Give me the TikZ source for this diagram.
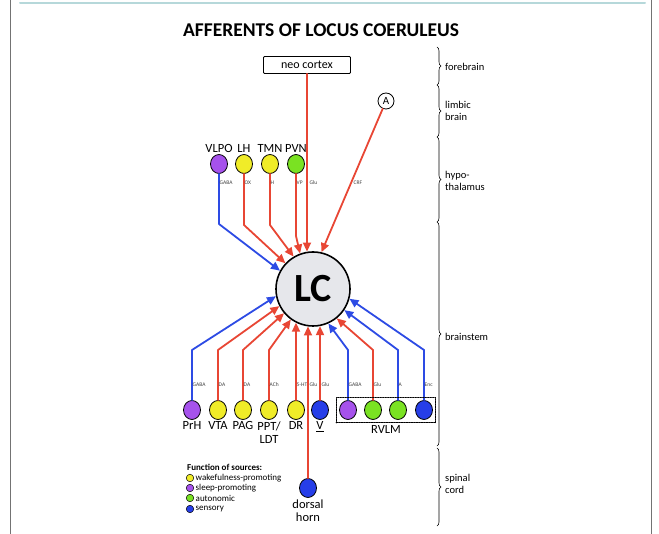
\documentclass[tikz,border=0pt]{standalone}
\usepackage{fontspec}
\setmainfont{Carlito}
\usetikzlibrary{arrows.meta,shapes.geometric,decorations.pathreplacing,fit}

\definecolor{afred}{RGB}{232,70,52}
\definecolor{afblue}{RGB}{45,75,228}
\definecolor{wake}{RGB}{240,236,40}
\definecolor{sleep}{RGB}{166,82,236}
\definecolor{auto}{RGB}{122,226,34}
\definecolor{sens}{RGB}{38,62,232}
\definecolor{lcfill}{RGB}{230,231,235}
\definecolor{rule}{RGB}{182,216,218}

\tikzset{
  src/.style={ellipse,draw,line width=0.8pt,minimum width=17pt,minimum height=19pt,inner sep=0pt},
  conn/.style={line width=1.8pt,line join=round,-{Triangle[length=9pt,width=8pt]}},
  tx/.style={font=\fontsize{5.5}{6.5}\selectfont,text=black!75,anchor=west,inner sep=0.5pt},
  lab/.style={font=\fontsize{12.5}{13}\selectfont,align=center,inner sep=1.5pt},
  side/.style={font=\fontsize{10.5}{11.5}\selectfont,align=left,anchor=west,inner sep=0pt},
  brc/.style={decorate,decoration={brace,amplitude=4pt},line width=0.6pt},
  legdot/.style={circle,draw,line width=0.5pt,minimum size=7.5pt,inner sep=0pt},
  legtxt/.style={font=\fontsize{9}{10}\selectfont,anchor=west,inner sep=1.5pt}
}

\begin{document}
\begin{tikzpicture}[x=1pt,y=-1pt,line cap=round]
\useasboundingbox (0,0) rectangle (659,534);
% frame
\draw[black!55,line width=0.8pt] (10,0) -- (10,534);
\draw[black!55,line width=0.8pt] (651,0) -- (651,534);
\draw[rule,line width=2pt] (20,3) -- (645,3);

\node[font=\fontsize{19.5}{20}\selectfont\bfseries] (title) at (321,30) {AFFERENTS OF LOCUS COERULEUS};

% locus coeruleus
\node[circle,draw,line width=1.6pt,fill=lcfill,minimum size=74pt,inner sep=0pt,
  font=\fontsize{40}{40}\selectfont\bfseries] (lc) at (313,289) {LC};

% forebrain and limbic input
\node[draw,line width=0.8pt,rounded corners=1pt,minimum width=87pt,minimum height=17pt,
  inner sep=1pt,font=\fontsize{12}{13}\selectfont] (neo) at (307,65) {neo cortex};
\draw[conn,afred] (neo.south) -- (neo.south |- lc.98);
\node[tx] (neoglu) at (309,183) {Glu};
\node[circle,draw,line width=0.8pt,minimum size=16pt,inner sep=0pt,
  font=\fontsize{11}{12}\selectfont] (a) at (386,101) {A};
\draw[conn,afred] (a) -- (lc.77);
\node[tx] (crf) at (353,183) {CRF};

% hypothalamus
\foreach \nm/\x/\col/\lab/\tr/\bend/\ang/\lc in {
  vlpo/219/sleep/VLPO/GABA/224/151/afblue,
  lh/244/wake/LH/OX/225/137/afred,
  tmn/270/wake/TMN/H/225/121/afred,
  pvn/296/auto/PVN/VP/236/110/afred}{
  \node[src,fill=\col,label={[lab]above:\lab}] (\nm) at (\x,164) {};
  \draw[conn,\lc] (\nm) -- (\nm |- 0,\bend) -- (lc.\ang);
  \node[tx] (\nm-tr) at (\x,183) {\tr};
}

% brainstem
\def\pptl{PPT/\\LDT}
\foreach \nm/\x/\col/\lab/\tr/\ang/\lc in {
  prh/192/sleep/PrH/GABA/191/afblue,
  vta/218/wake/VTA/DA/207/afred,
  pag/243/wake/PAG/DA/220/afred,
  ppt/269/wake/\pptl/ACh/234/afred,
  rg/348/sleep//GABA/294/afblue,
  rglu/373/auto//Glu/309/afred,
  ra/398/auto//A/326/afblue,
  renc/424/sens//Enc/345/afblue}{
  \node[src,fill=\col,label={[lab,anchor=north]below:\lab}] (\nm) at (\x,410) {};
  \draw[conn,\lc] (\nm) -- (\nm |- 0,350) -- (lc.\ang);
  \node[tx] (\nm-tr) at (\x,385) {\tr};
}
\node[src,fill=wake,label={[lab]below:DR}] (dr) at (296,410) {};
\draw[conn,afred] (dr) -- (dr |- lc.243);
\node[tx] (dr-tr) at (296,385) {5-HT};
\node[src,fill=sens,label={[lab]below:\underline{V}}] (v) at (320,410) {};
\draw[conn,afred] (v) -- (v |- lc.281);
\node[tx] (v-tr) at (321,385) {Glu};
\node[draw,dash pattern=on 1.5pt off 1pt,line width=0.9pt,inner sep=3pt,fit=(rg)(renc),
  label={[lab]below:RVLM}] (rvlm) {};

% spinal cord
\node[src,fill=sens,label={[lab]below:dorsal\\horn}] (dh) at (308,488) {};
\draw[conn,afred] (dh) -- (dh |- lc.262);
\node[tx] (dh-tr) at (309,385) {Glu};

% legend
\node[font=\fontsize{9}{10}\selectfont\bfseries,anchor=west,inner sep=0pt] (legend) at (187,467) {Function of sources:};
\foreach \col/\y/\txt [count=\i] in {
  wake/478/wakefulness-promoting,
  sleep/488/sleep-promoting,
  auto/498/autonomic,
  sens/509/sensory}{
  \node[legdot,fill=\col] (ld\i) at (190,\y) {};
  \node[legtxt] (lt\i) at (ld\i.east) {\txt};
}

% brain levels
\foreach \ya/\yb in {47/85,85/137,137/222,222/446,448/526}
  \draw[brc] (437,\ya) -- (437,\yb);
\node[side] (fore) at (445,67) {forebrain};
\node[side] (limb) at (445,111) {limbic\\brain};
\node[side] (hypo) at (445,181) {hypo-\\thalamus};
\node[side] (stem) at (445,337) {brainstem};
\node[side] (spin) at (445,484) {spinal\\cord};
\end{tikzpicture}
\end{document}
